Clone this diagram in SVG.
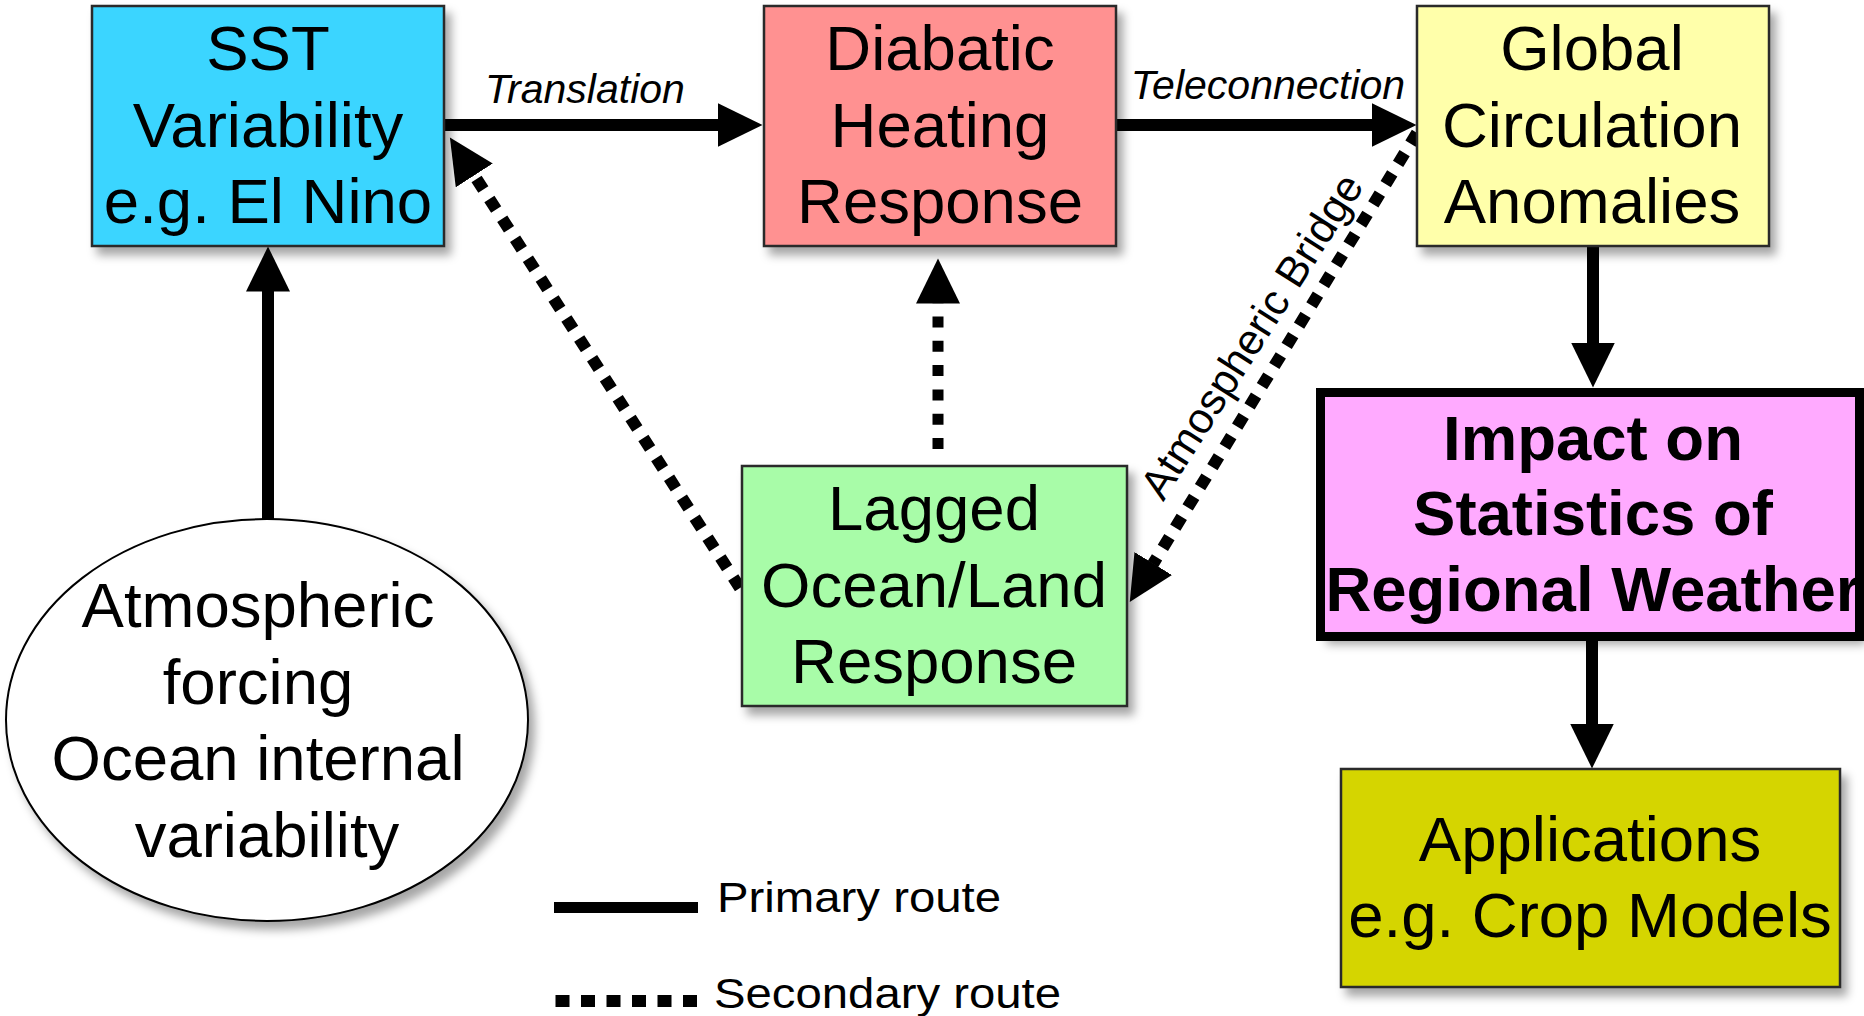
<svg xmlns="http://www.w3.org/2000/svg" width="1864" height="1016" viewBox="0 0 1864 1016">
<style>
  text { font-family: "Liberation Sans", Arial, Helvetica, sans-serif; fill: #000; }
  .box { stroke: #2a2a2a; stroke-width: 2.5; filter: url(#shadow); }
  .big { font-size: 63.5px; text-anchor: middle; }
  .bold { font-weight: bold; }
  .lbl { font-size: 41px; font-style: italic; text-anchor: middle; }
  .leg { font-size: 42px; }
  .pri { fill: none; stroke: #000; stroke-width: 12; }
  .sec { fill: none; stroke: #000; stroke-width: 12; stroke-dasharray: 12.5 11.2; }
</style>
<defs>
  <filter id="shadow" x="-10%" y="-10%" width="125%" height="130%">
    <feDropShadow dx="6" dy="8" stdDeviation="5" flood-color="#000" flood-opacity="0.35"/>
  </filter>
  <marker id="arrow" markerUnits="userSpaceOnUse" markerWidth="46" markerHeight="46" viewBox="0 0 46 46" refX="0.5" refY="23" orient="auto">
    <path d="M0,1 L45,23 L0,45 Z" fill="#000"/>
  </marker>
</defs>

<g id="connectors">
  <!-- Translation -->
  <line class="pri" x1="444" y1="125" x2="718" y2="125" marker-end="url(#arrow)"/>
  <text class="lbl" x="585" y="103">Translation</text>
  <!-- Teleconnection -->
  <line class="pri" x1="1116" y1="125" x2="1372" y2="125" marker-end="url(#arrow)"/>
  <text class="lbl" x="1268" y="99">Teleconnection</text>
  <!-- Forcing up to SST -->
  <line class="pri" x1="268" y1="521" x2="268" y2="291" marker-end="url(#arrow)"/>
  <!-- Global to Impact -->
  <line class="pri" x1="1593" y1="246" x2="1593" y2="343" marker-end="url(#arrow)"/>
  <!-- Impact to Applications -->
  <line class="pri" x1="1592" y1="640" x2="1592" y2="724" marker-end="url(#arrow)"/>
  <!-- Lagged to SST (secondary) -->
  <line class="sec" x1="740" y1="588" x2="474" y2="175" marker-end="url(#arrow)"/>
  <!-- Lagged to Diabatic (secondary) -->
  <line class="sec" x1="938" y1="449" x2="938" y2="303" style="stroke-width:11;stroke-dasharray:11 13.3" marker-end="url(#arrow)"/>
  <!-- Atmospheric Bridge (secondary) -->
  <line class="sec" x1="1417" y1="133" x2="1153" y2="564" marker-end="url(#arrow)"/>
  <text font-size="43" text-anchor="middle" transform="translate(1264,344) rotate(-57.5)">Atmospheric Bridge</text>
</g>

<g id="sst">
  <rect class="box" x="92" y="6" width="352" height="240" fill="#3bd5ff"/>
  <text class="big" x="268" y="70">SST</text>
  <text class="big" x="268" y="147">Variability</text>
  <text class="big" x="268" y="223">e.g. El Nino</text>
</g>

<g id="diabatic">
  <rect class="box" x="764" y="6" width="352" height="240" fill="#ff9191"/>
  <text class="big" x="940" y="70">Diabatic</text>
  <text class="big" x="940" y="147">Heating</text>
  <text class="big" x="940" y="223">Response</text>
</g>

<g id="global">
  <rect class="box" x="1417" y="6" width="352" height="240" fill="#ffffaa"/>
  <text class="big" x="1592" y="70">Global</text>
  <text class="big" x="1592" y="147">Circulation</text>
  <text class="big" x="1592" y="223">Anomalies</text>
</g>

<g id="forcing">
  <ellipse cx="267" cy="720" rx="261" ry="201" fill="#fff" stroke="#000" stroke-width="2" filter="url(#shadow)"/>
  <text class="big" x="258" y="627">Atmospheric</text>
  <text class="big" x="258" y="704">forcing</text>
  <text class="big" x="258" y="780">Ocean internal</text>
  <text class="big" x="267" y="857">variability</text>
</g>

<g id="lagged">
  <rect class="box" x="742" y="466" width="385" height="240" fill="#a8fca8"/>
  <text class="big" x="934" y="530">Lagged</text>
  <text class="big" x="934" y="607">Ocean/Land</text>
  <text class="big" x="934" y="683">Response</text>
</g>

<g id="impact">
  <rect x="1320.5" y="392.5" width="539" height="244" fill="#ffaaff" filter="url(#shadow)"/>
  <text class="big bold" x="1593" y="460">Impact on</text>
  <text class="big bold" x="1593" y="535">Statistics of</text>
  <text class="big bold" x="1593" y="611">Regional Weather</text>
  <rect x="1320.5" y="392.5" width="539" height="244" fill="none" stroke="#000" stroke-width="9"/>
</g>

<g id="applications">
  <rect class="box" x="1341" y="769" width="499" height="218" fill="#d5d500" stroke="#000"/>
  <text class="big" x="1590" y="861">Applications</text>
  <text class="big" x="1590" y="937">e.g. Crop Models</text>
</g>

<g id="legend">
  <line x1="554" y1="907.5" x2="698" y2="907.5" stroke="#000" stroke-width="11"/>
  <text class="leg" x="717" y="912" textLength="284" lengthAdjust="spacingAndGlyphs">Primary route</text>
  <line x1="555.5" y1="1001" x2="697" y2="1001" stroke="#000" stroke-width="12" stroke-dasharray="14 11.5"/>
  <text class="leg" x="714" y="1008" textLength="347" lengthAdjust="spacingAndGlyphs">Secondary route</text>
</g>
</svg>
